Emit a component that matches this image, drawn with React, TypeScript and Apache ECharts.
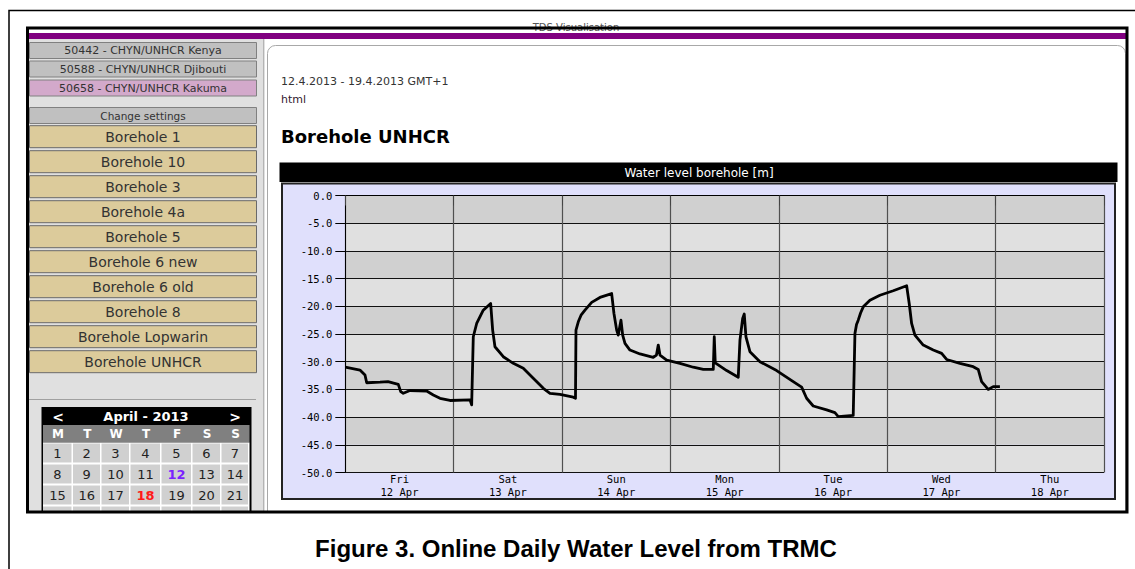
import React, { useEffect, useRef } from "react";
import * as echarts from "echarts";

// ---- data ----
const hours = [0, 3.25, 4.36, 4.74, 7.68, 9.45, 11.73, 12.27, 12.84, 14.32, 18.02, 19.48, 20.97, 23.18, 27.61, 27.98, 28.34, 29.09, 30.55, 32.19, 32.63, 33.14, 34.98, 37.2, 39.41, 41.62, 43.84, 45.32, 47.54, 50.48, 50.97, 51.08, 51.59, 52.2, 53.07, 54.55, 56.39, 58.98, 59.49, 60.09, 60.44, 61.04, 61.42, 61.93, 63.03, 65.25, 68.19, 68.9, 69.3, 69.68, 71.16, 74.11, 77.05, 79.27, 81.48, 81.7, 81.92, 84.45, 87.01, 87.39, 87.99, 88.34, 88.72, 89.6, 91.82, 95.51, 99.19, 101.05, 102.15, 103.61, 106.58, 108.42, 109.15, 112.47, 112.85, 113.2, 113.58, 114.1, 114.69, 116.17, 118.38, 121.33, 124.3, 124.87, 125.4, 126.13, 127.97, 130.19, 132.05, 133.15, 136.1, 139.04, 140.15, 140.9, 142.36, 143.47, 144.95];
const levels = [-31.0, -31.5, -32.4, -33.8, -33.7, -33.6, -34.1, -35.4, -35.7, -35.2, -35.3, -36.0, -36.6, -37.0, -36.9, -37.8, -25.5, -23.1, -20.7, -19.5, -24.3, -27.3, -29.1, -30.3, -31.2, -33.0, -34.8, -35.7, -35.9, -36.4, -36.6, -24.3, -22.8, -21.6, -20.7, -19.3, -18.4, -17.7, -21.3, -24.3, -25.2, -22.5, -25.2, -26.7, -27.9, -28.6, -29.2, -28.8, -27.0, -28.8, -29.7, -30.3, -31.0, -31.4, -31.4, -25.5, -30.2, -31.6, -32.8, -26.1, -22.2, -21.4, -25.5, -28.2, -30.0, -31.6, -33.6, -34.6, -36.6, -38.0, -38.7, -39.2, -39.9, -39.7, -24.9, -23.3, -22.5, -21.2, -20.1, -18.9, -18.0, -17.2, -16.3, -19.5, -23.1, -25.2, -27.0, -27.9, -28.5, -29.6, -30.3, -30.9, -31.4, -33.6, -35.0, -34.5, -34.5];
const dayNames = ["Fri", "Sat", "Sun", "Mon", "Tue", "Wed", "Thu"];
const dayDates = ["12 Apr", "13 Apr", "14 Apr", "15 Apr", "16 Apr", "17 Apr", "18 Apr"];
const yMin = -50;
const yMax = 0;
const yStep = 5;
const stations = ["50442 - CHYN/UNHCR Kenya", "50588 - CHYN/UNHCR Djibouti", "50658 - CHYN/UNHCR Kakuma"];
const boreholes = ["Borehole 1", "Borehole 10", "Borehole 3", "Borehole 4a", "Borehole 5", "Borehole 6 new", "Borehole 6 old", "Borehole 8", "Borehole Lopwarin", "Borehole UNHCR"];
const weekdays = ["M", "T", "W", "T", "F", "S", "S"];
const calendarRows = [[1, 2, 3, 4, 5, 6, 7], [8, 9, 10, 11, 12, 13, 14], [15, 16, 17, 18, 19, 20, 21]];

const WEB_FONT = "DejaVu Sans, Verdana, sans-serif";
const MONO = "DejaVu Sans Mono, monospace";

function buildGraphics() {
  const G: any[] = [];
  const rect = (x: number, y: number, w: number, h: number, fill: string, stroke?: string, lw = 1, z = -2, r?: any) =>
    G.push({ type: "rect", z, shape: { x, y, width: w, height: h, r: r || 0 }, style: { fill, stroke: stroke || null, lineWidth: lw } });
  const line = (x1: number, y1: number, x2: number, y2: number, stroke: string, lw = 1, z = -1) =>
    G.push({ type: "line", z, shape: { x1, y1, x2, y2 }, style: { stroke, lineWidth: lw } });
  const text = (t: string, x: number, y: number, size: number, fill: string, opts: any = {}) =>
    G.push({
      type: "text", z: opts.z ?? 5, x, y,
      style: { text: t, fill, fontSize: size, fontFamily: opts.family || WEB_FONT, fontWeight: opts.bold ? "bold" : "normal", textAlign: opts.align || "center", textVerticalAlign: "middle" },
    });

  // outer figure frame
  rect(9, 10.5, 1140, 600, "#fff", "#000", 1.5, -5);
  // screenshot area
  rect(29, 30, 1097, 481, "#fff", undefined, 1, -4);
  text("TDS Visualisation", 576, 27.5, 10, "#555", { z: 3 });
  rect(29, 33, 1097, 6, "#800080", undefined, 1, 4);
  // left panel
  rect(29, 39, 236, 472, "#e0e0e0", undefined, 1, -3);
  line(263.5, 39, 263.5, 511, "#b4b4b4", 1, -2);
  const sy = [42, 60.5, 79.5];
  stations.forEach((s, i) => {
    rect(29.5, sy[i] + 0.5, 227, 16, i === 2 ? "#d3a9cb" : "#c0c0c0", "#808080", 1);
    text(s, 143, sy[i] + 8.8, 11, "#333");
  });
  rect(29.5, 107.5, 227, 16, "#c0c0c0", "#808080", 1);
  text("Change settings", 143, 116, 10.5, "#333");
  boreholes.forEach((b, i) => {
    const t = 125.7 + 25 * i;
    rect(29.5, t, 227, 22, "#dccb9b", "#6a6a6a", 1);
    text(b, 143, t + 11.5, 14, "#333");
  });
  line(29, 399.5, 256, 399.5, "#a0a0a0", 1);

  // calendar
  rect(41.5, 407, 210, 106, "#000", undefined, 1, -2);
  rect(43, 425, 206.5, 17.5, "#808080", undefined, 1, -1);
  rect(43, 442.5, 206.5, 70, "#fff", undefined, 1, -1);
  text("<", 58, 416.5, 14, "#fff", { bold: true });
  text(">", 235, 416.5, 14, "#fff", { bold: true });
  text("April - 2013", 146, 416.5, 13, "#fff", { bold: true });
  const colX = [43, 73, 101.5, 130.5, 161.5, 192.5, 221.5, 249.5];
  weekdays.forEach((w, i) => text(w, (colX[i] + colX[i + 1]) / 2, 434, 12, "#fff", { bold: true }));
  const rowY = [443.5, 464.5, 485.5, 506.5];
  rowY.forEach((ry, r) => {
    for (let c = 0; c < 7; c++) {
      G.push({ type: "rect", z: 0, shape: { x: colX[c], y: ry, width: colX[c + 1] - colX[c] - 1.5, height: 19 }, style: { fill: "#d0d0d0" } });
      const row = calendarRows[r];
      if (row) {
        const d = row[c];
        const special = d === 12 ? "#7b22ff" : d === 18 ? "#ff1a1a" : null;
        text(String(d), (colX[c] + colX[c + 1]) / 2 - 0.5, ry + 9.5, 13, special || "#222", { bold: !!special });
      }
    }
  });
  rect(29, 511, 1100, 20, "#fff", undefined, 1, 3);

  // content panel
  rect(267.5, 45.5, 858, 480, "#fff", "#a8a8a8", 1, -3, [8, 8, 0, 0]);
  text("12.4.2013 - 19.4.2013 GMT+1", 281, 81, 11, "#333", { align: "left" });
  text("html", 281, 99, 11, "#33202f", { align: "left" });
  text("Borehole UNHCR", 281, 136, 18, "#000", { align: "left", bold: true });

  // chart frame
  rect(279.5, 162.5, 838, 19.5, "#000", undefined, 1, -2);
  text("Water level borehole [m]", 699, 172.5, 12, "#fff");
  rect(282, 183.5, 833, 315.5, "#e0e0fc", "#222", 2, -1);

  // inner thick border of screenshot
  rect(27.5, 28, 1099.5, 484, "none", "#000", 3, 8);

  // caption
  text("Figure 3. Online Daily Water Level from TRMC", 576, 548, 24, "#000", { bold: true, family: "Liberation Sans, Arial, sans-serif" });
  return G;
}

export default function App() {
  const ref = useRef<HTMLDivElement>(null);
  useEffect(() => {
    if (!ref.current) return;
    const chart = echarts.init(ref.current, undefined, { renderer: "svg" });
    const data = hours.map((h, i) => [h, levels[i]]);
    chart.setOption({
      animation: false,
      backgroundColor: "#fff",
      graphic: { elements: buildGraphics() },
      grid: { left: 345.3, top: 195.5, width: 758.7, height: 277, containLabel: false },
      xAxis: [
        {
          type: "value", min: 0, max: 168, interval: 24, position: "bottom",
          axisLine: { show: true, lineStyle: { color: "#000", width: 1 } },
          axisTick: { show: true, length: 10, lineStyle: { color: "#444", width: 1 } },
          axisLabel: { show: false },
          splitLine: { show: true, lineStyle: { color: "#505050", width: 1.2 } },
        },
        {
          type: "category", position: "bottom", data: dayNames.map((d, i) => d + "\n" + dayDates[i]),
          boundaryGap: true,
          axisLine: { show: false }, axisTick: { show: false }, splitLine: { show: false },
          axisLabel: { margin: -0.5, fontFamily: MONO, fontSize: 10.5, lineHeight: 13, color: "#000", interval: 0 },
        },
      ],
      yAxis: {
        type: "value", min: yMin, max: yMax, interval: yStep,
        axisLine: { show: true, lineStyle: { color: "#000", width: 1 } },
        axisTick: { show: true, length: 10, lineStyle: { color: "#000", width: 1 } },
        axisLabel: { margin: 13, fontFamily: MONO, fontSize: 10.5, color: "#000", formatter: (v: number) => v.toFixed(1) },
        splitLine: { show: true, lineStyle: { color: "#111", width: 1 } },
        splitArea: { show: true, areaStyle: { color: ["#e0e0e0", "#d0d0d0"] } },
      },
      series: [
        {
          type: "line", xAxisIndex: 0, data, showSymbol: false, symbol: "none",
          lineStyle: { color: "#000", width: 2.8, join: "round" }, z: 4,
        },
      ],
    });
    return () => chart.dispose();
  }, []);
  return <div ref={ref} style={{ position: "absolute", left: 0, top: 0, width: 1135, height: 569 }} />;
}
